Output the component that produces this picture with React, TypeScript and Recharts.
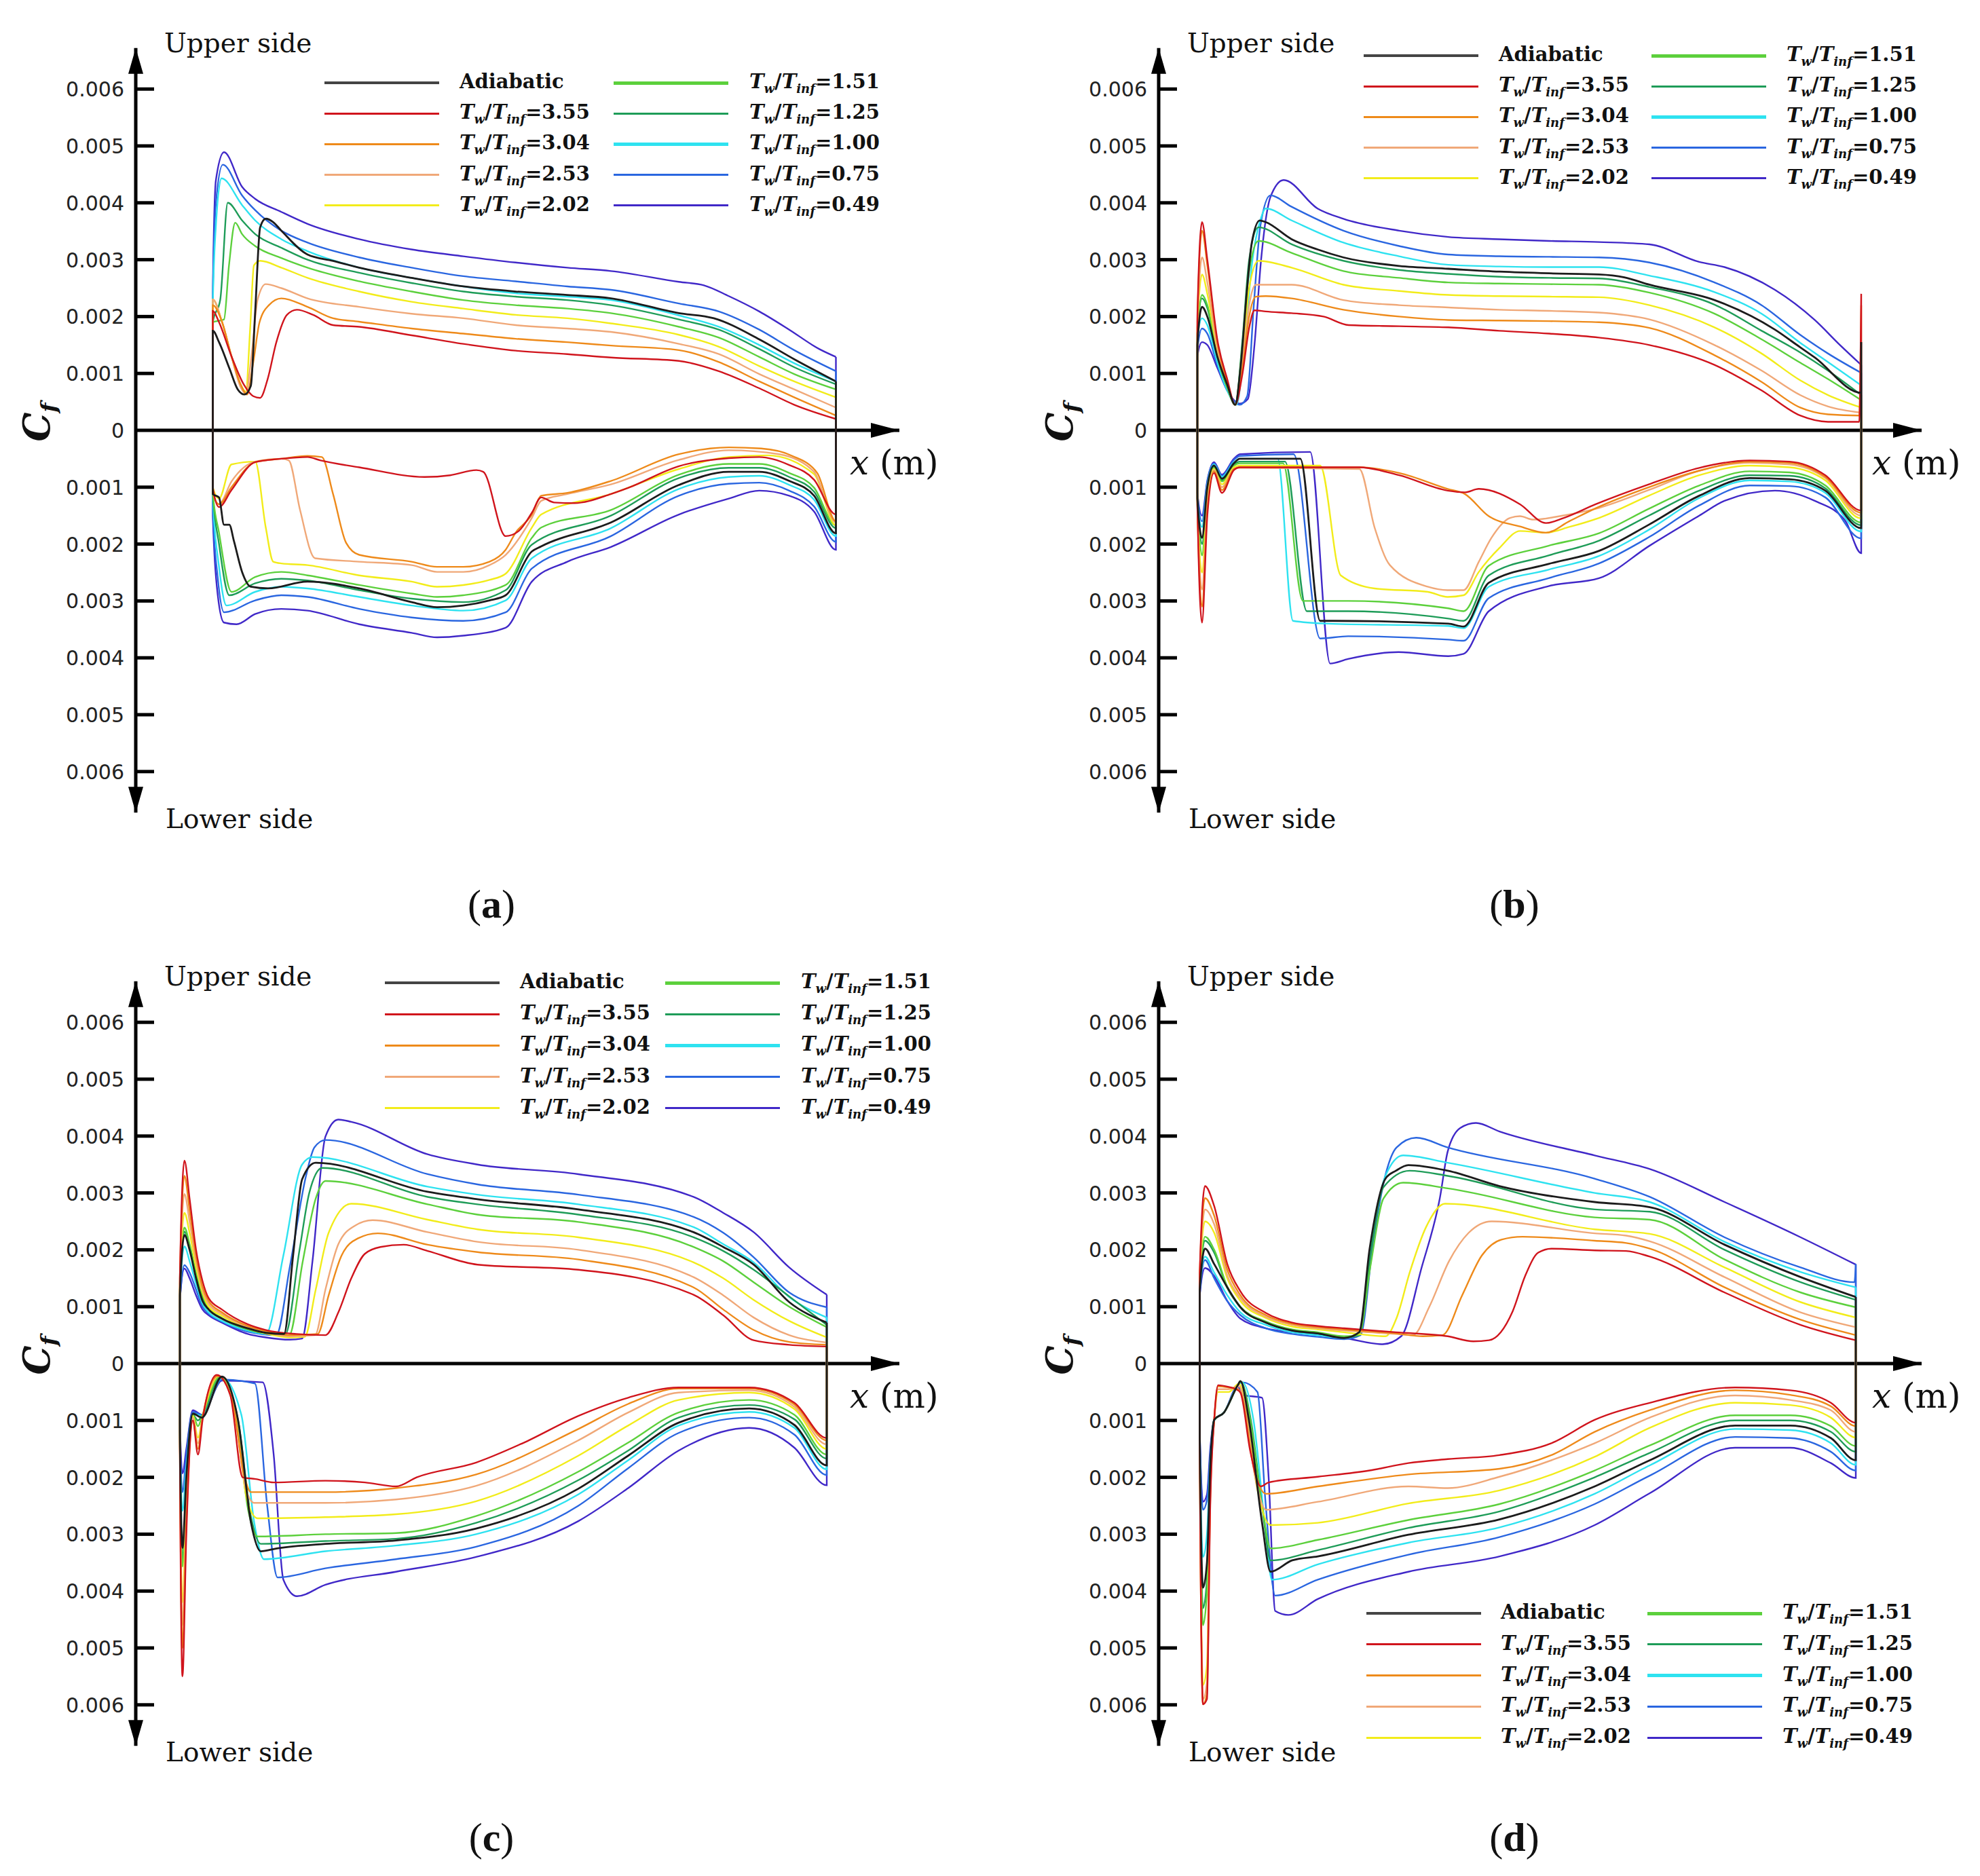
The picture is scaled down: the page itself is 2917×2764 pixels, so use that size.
import React from "react";
import { Line, LineChart, ReferenceDot, ReferenceLine, XAxis, YAxis } from "recharts";

// x in % of chord, Cf in units of 1e-3 (lower side stored as magnitude)
const SERIES_LABELS = ["Adiabatic", "3.55", "3.04", "2.53", "2.02", "1.51", "1.25", "1.00", "0.75", "0.49"];
const SERIES_COLORS = ["#1c1c1c", "#d0141c", "#ee8a1a", "#f0a878", "#f2ec1a", "#5cd03c", "#1e9c58", "#2ee2f0", "#2a66e0", "#4028c8"];
const CF_TICKS = [-6, -5, -4, -3, -2, -1, 0, 1, 2, 3, 4, 5, 6];

// (a) upper side
const aUpAdia = [0,1.75, 1,1.55, 2.7,1.08, 4,0.72, 5.1,0.63, 6.1,0.78, 6.8,2.08, 7.6,3.57, 8.5,3.72, 9.7,3.66, 11,3.51, 15.2,3.09, 19.3,2.98, 23.5,2.86, 31.9,2.68, 40.2,2.53, 48.6,2.44, 56.9,2.38, 63.9,2.32, 74.8,2.06, 80.4,1.97, 87.7,1.6, 93.3,1.25, 100,0.86];
const aUp355 = [0,2.1, 1,1.9, 3,1.3, 5,0.8, 6.5,0.6, 7.6,0.57, 8.8,0.9, 10.2,1.55, 11.9,2.03, 13.5,2.12, 16.1,2.03, 19.3,1.85, 23.5,1.82, 31.9,1.67, 40.2,1.52, 48.6,1.4, 56.9,1.34, 63.9,1.28, 74.8,1.22, 81.2,1.04, 87.7,0.74, 93.3,0.45, 100,0.2];
const aUp304 = [0,2.2, 1.5,1.9, 3,1.3, 4.5,0.8, 5.5,0.63, 6.5,1.2, 7.5,1.9, 9,2.2, 11,2.32, 15.2,2.17, 19.3,1.97, 23.5,1.91, 31.9,1.79, 40.2,1.7, 48.6,1.61, 56.9,1.55, 63.9,1.49, 74.8,1.41, 81.2,1.2, 87.7,0.86, 93.3,0.58, 100,0.26];
const aUp253 = [0,2.3, 1.5,1.9, 3,1.3, 4.5,0.75, 5.3,0.65, 6.2,1.3, 7.2,2.3, 8.5,2.57, 11,2.5, 15.2,2.32, 23.5,2.17, 31.9,2.05, 40.2,1.97, 48.6,1.85, 56.9,1.79, 63.9,1.73, 74.8,1.52, 81.2,1.34, 87.7,0.99, 93.3,0.72, 100,0.4];
const aUp202 = [0,2.3, 1.5,1.9, 3,1.3, 4.5,0.8, 5.3,0.68, 6,1.8, 6.6,2.9, 7.6,2.98, 11,2.86, 15.2,2.68, 23.5,2.44, 31.9,2.26, 40.2,2.14, 48.6,2.03, 56.9,1.97, 63.9,1.88, 74.8,1.68, 81.2,1.47, 87.7,1.13, 93.3,0.86, 100,0.58];
const aUp151 = [0,1.9, 1.8,1.95, 2.6,2.9, 3.6,3.65, 4.7,3.45, 6.8,3.24, 11,3.03, 15.2,2.86, 23.5,2.62, 31.9,2.44, 40.2,2.29, 48.6,2.2, 56.9,2.14, 63.9,2.06, 74.8,1.82, 81.2,1.63, 87.7,1.29, 93.3,0.99, 100,0.72];
const aUp125 = [0,1.9, 1.2,2.3, 2.4,4.0, 4.7,3.69, 6.8,3.45, 11,3.21, 15.2,3.0, 23.5,2.77, 31.9,2.59, 40.2,2.44, 48.6,2.35, 56.9,2.29, 63.9,2.2, 74.8,1.95, 81.2,1.77, 87.7,1.43, 93.3,1.11, 100,0.81];
const aUp100 = [0,2.2, 0.5,3.6, 1.4,4.43, 4.7,3.96, 6.8,3.69, 11,3.36, 15.2,3.15, 23.5,2.86, 31.9,2.68, 40.2,2.53, 48.6,2.41, 56.9,2.35, 63.9,2.29, 74.8,2.02, 81.2,1.82, 87.7,1.5, 93.3,1.18, 100,0.86];
const aUp075 = [0,2.3, 0.5,4.0, 1.6,4.67, 4.7,4.13, 6.8,3.87, 11,3.51, 15.2,3.3, 23.5,3.04, 31.9,2.86, 40.2,2.71, 48.6,2.62, 56.9,2.53, 63.9,2.47, 74.8,2.23, 81.2,2.09, 87.7,1.77, 93.3,1.41, 100,1.04];
const aUp049 = [0,2.4, 0.5,4.4, 1.8,4.89, 4.7,4.28, 6.8,4.07, 11,3.84, 15.2,3.63, 23.5,3.36, 31.9,3.18, 40.2,3.06, 48.6,2.95, 56.9,2.86, 63.9,2.8, 74.8,2.61, 78.8,2.55, 82.8,2.36, 87.7,2.09, 92.5,1.77, 97.3,1.43, 100,1.29];

// (a) lower side
const aLowAdia = [0,1.12, 1,1.18, 1.8,1.66, 2.65,1.66, 3.4,1.95, 4.7,2.49, 6.1,2.75, 8.9,2.78, 15.2,2.66, 23.5,2.78, 31.9,3.02, 36,3.11, 40.2,3.08, 44.4,2.99, 47,2.9, 51.2,2.13, 52.7,2.04, 63.9,1.62, 74.8,0.96, 82.8,0.73, 87.7,0.73, 92.5,0.89, 96.5,1.15, 100,1.81];
const aLow355 = [0,1.0, 1,1.35, 3,1.05, 6.8,0.56, 11,0.5, 15.2,0.47, 17.3,0.53, 23.5,0.65, 34,0.82, 38.1,0.79, 42.3,0.7, 43.4,0.73, 47,1.86, 49.1,1.77, 51.2,1.45, 52.7,1.18, 54.8,1.27, 58,1.28, 63.9,1.12, 66.7,1.01, 74.8,0.63, 82.8,0.49, 87.7,0.47, 92.5,0.61, 96.5,0.87, 100,1.48];
const aLow304 = [0,1.1, 1,1.3, 3,1.0, 6.8,0.56, 11,0.5, 15.2,0.45, 17.5,0.47, 19.3,1.12, 21.4,1.98, 23.5,2.19, 31.9,2.31, 36,2.4, 40.2,2.4, 44.4,2.31, 47,2.1, 48.6,1.8, 51.2,1.48, 52.7,1.15, 56.9,1.1, 63.9,0.89, 74.8,0.42, 82.8,0.3, 88,0.32, 93,0.45, 97,0.75, 100,1.6];
const aLow253 = [0,1.1, 1,1.3, 3,0.9, 6.8,0.55, 11,0.5, 12.2,0.53, 14,1.4, 16.4,2.25, 23.5,2.31, 31.9,2.37, 36,2.49, 40.2,2.49, 44.4,2.37, 47,2.19, 51.2,1.54, 52.7,1.24, 56.9,1.12, 63.9,0.95, 74.8,0.52, 82.8,0.35, 90.9,0.42, 96.5,0.73, 100,1.62];
const aLow202 = [0,1.0, 1,1.2, 3,0.6, 6.8,0.55, 8.5,1.71, 9.7,2.31, 11,2.34, 15.2,2.37, 23.5,2.55, 31.9,2.66, 36,2.75, 40.2,2.72, 44.4,2.63, 47,2.52, 51.2,1.71, 52.7,1.48, 63.9,1.12, 74.8,0.68, 82.8,0.47, 89,0.44, 96.5,0.77, 100,1.67];
const aLow151 = [0,1.1, 1,1.8, 3,2.84, 6.8,2.58, 11,2.49, 15.2,2.55, 23.5,2.72, 31.9,2.87, 36,2.93, 40.2,2.9, 47,2.72, 51.2,1.89, 52.7,1.71, 63.9,1.4, 74.8,0.78, 82.8,0.59, 87.7,0.59, 92.5,0.75, 96.5,1.01, 100,1.67];
const aLow125 = [0,1.1, 1,2.0, 2.65,2.9, 6.8,2.69, 11,2.61, 15.2,2.64, 23.5,2.81, 31.9,2.96, 40.2,3.02, 47,2.81, 51.2,2.01, 63.9,1.5, 74.8,0.84, 82.8,0.66, 87.7,0.66, 92.5,0.82, 96.5,1.08, 100,1.72];
const aLow100 = [0,1.2, 1,2.4, 2.2,3.08, 6.8,2.84, 11,2.75, 15.2,2.78, 23.5,2.93, 31.9,3.08, 40.2,3.17, 47,2.99, 51.2,2.25, 63.9,1.72, 74.8,1.03, 82.8,0.82, 87.7,0.8, 92.5,0.96, 96.5,1.22, 100,1.86];
const aLow075 = [0,1.4, 0.8,2.6, 1.8,3.2, 6.8,2.99, 11,2.9, 15.2,2.93, 23.5,3.14, 31.9,3.29, 40.2,3.35, 47,3.2, 51.2,2.43, 63.9,1.86, 74.8,1.15, 82.8,0.94, 87.7,0.92, 92.5,1.06, 96.5,1.34, 100,1.96];
const aLow049 = [0,1.5, 0.8,2.9, 1.8,3.38, 3.8,3.41, 6.8,3.23, 11,3.14, 15.2,3.17, 23.5,3.41, 31.9,3.56, 36,3.64, 40.2,3.61, 47,3.47, 51.2,2.66, 56.9,2.31, 63.9,2.05, 74.8,1.48, 82.8,1.2, 87.7,1.06, 92.5,1.15, 96.5,1.43, 100,2.1];

// (b) upper side
const bUpAdia = [0,1.5, 0.7,2.17, 1.5,2.0, 3,1.3, 4.5,0.8, 5.7,0.45, 6.5,1.1, 7.5,2.5, 8.2,3.3, 9.4,3.69, 10.3,3.66, 14.2,3.36, 18.1,3.18, 22,3.04, 30.4,2.89, 37.8,2.84, 45.5,2.79, 53,2.76, 60.5,2.74, 64.3,2.69, 68.1,2.56, 77.9,2.29, 87,1.77, 90.8,1.46, 93,1.28, 100,0.66, 100,1.55];
const bUp355 = [0,2.0, 0.7,3.66, 1.5,3.0, 3,1.6, 4.5,0.9, 5.7,0.45, 6.8,1.0, 7.8,1.8, 8.6,2.11, 10.3,2.09, 14.2,2.06, 19,2.0, 22.8,1.85, 30.4,1.83, 37.8,1.81, 45.5,1.75, 53,1.7, 60.5,1.63, 68.1,1.5, 77.9,1.15, 85,0.7, 90.8,0.26, 95,0.15, 99.7,0.15, 100,2.4];
const bUp304 = [0,1.9, 0.7,3.51, 1.5,2.9, 3,1.55, 4.5,0.85, 5.7,0.45, 6.8,1.1, 7.8,2.0, 8.8,2.35, 10.3,2.36, 14.2,2.32, 22,2.12, 30.4,2.0, 37.8,1.94, 45.5,1.93, 53,1.92, 60.5,1.9, 68.1,1.8, 77.9,1.32, 85,0.85, 90.8,0.4, 95,0.28, 99.7,0.26, 100,2.2];
const bUp253 = [0,1.8, 0.7,3.04, 1.5,2.6, 3,1.45, 4.5,0.8, 5.7,0.45, 6.8,1.2, 7.8,2.2, 8.8,2.56, 10.3,2.56, 14.2,2.56, 22,2.29, 30.4,2.2, 37.8,2.16, 45.5,2.12, 53,2.1, 60.5,2.07, 68.1,1.95, 77.9,1.5, 85,1.05, 90.8,0.62, 95,0.42, 100,0.31];
const bUp202 = [0,1.8, 0.7,2.74, 1.5,2.4, 3,1.4, 4.5,0.8, 5.7,0.45, 6.8,1.4, 7.8,2.5, 9.2,2.98, 14.2,2.86, 22,2.56, 30.4,2.45, 37.8,2.38, 45.5,2.36, 53,2.35, 60.5,2.34, 68.1,2.2, 77.9,1.81, 85,1.35, 90.8,0.88, 95,0.62, 100,0.4];
const bUp151 = [0,1.7, 0.7,2.38, 1.5,2.2, 3,1.3, 4.5,0.75, 5.7,0.45, 6.8,1.5, 7.8,2.8, 9.2,3.33, 14.2,3.12, 22,2.8, 30.4,2.68, 37.8,2.6, 45.5,2.58, 53,2.57, 60.5,2.56, 68.1,2.42, 77.9,2.05, 85,1.6, 90.8,1.19, 95,0.9, 100,0.53];
const bUp125 = [0,1.7, 0.7,2.32, 1.5,2.15, 3,1.3, 4.5,0.75, 5.7,0.45, 6.8,1.6, 7.8,3.0, 9.2,3.57, 14.2,3.27, 22,2.98, 30.4,2.82, 37.8,2.75, 45.5,2.7, 53,2.68, 60.5,2.67, 68.1,2.52, 77.9,2.21, 85,1.75, 90.8,1.37, 95,1.05, 100,0.62];
const bUp100 = [0,1.6, 0.7,1.97, 1.5,1.85, 3,1.2, 4.5,0.7, 5.9,0.45, 7,1.4, 8.3,3.0, 9.5,3.7, 10.3,3.9, 14.2,3.69, 22,3.3, 30.4,3.06, 37.8,2.91, 45.5,2.88, 53,2.87, 60.5,2.87, 68.1,2.72, 77.9,2.43, 85,2.05, 90.8,1.54, 95,1.2, 100,0.79];
const bUp075 = [0,1.4, 0.7,1.79, 1.5,1.7, 3,1.15, 4.5,0.7, 6.4,0.45, 7.5,0.6, 8.5,2.2, 9.5,3.6, 11,4.13, 14.2,3.93, 22,3.51, 30.4,3.24, 37.8,3.09, 45.5,3.06, 53,3.05, 60.5,3.04, 68.1,2.95, 77.9,2.6, 85,2.2, 90.8,1.68, 95,1.35, 100,1.01];
const bUp049 = [0,1.3, 0.7,1.55, 1.5,1.5, 3,1.1, 4.5,0.7, 6.4,0.47, 7.6,0.55, 8.6,1.5, 9.6,3.0, 10.5,3.85, 11,4.1, 13,4.4, 18.1,3.9, 22,3.72, 30.4,3.51, 37.8,3.4, 45.5,3.36, 53,3.33, 60.5,3.31, 68.1,3.27, 75.6,2.96, 79.4,2.87, 87,2.47, 93,1.94, 96.8,1.5, 100,1.15];

// (b) lower side
const bLowAdia = [0,1.2, 0.7,1.89, 1.5,1.0, 2.5,0.62, 3.7,0.85, 5.5,0.58, 6.4,0.5, 15.5,0.5, 18.5,3.35, 20.4,3.35, 37.8,3.4, 40.1,3.45, 43.9,2.68, 52.9,2.35, 60.5,2.12, 68,1.66, 75.6,1.15, 83.2,0.84, 89.2,0.86, 94.6,1.06, 100,1.72];
const bLow355 = [0,1.3, 0.7,3.38, 1.5,1.5, 2.5,0.75, 3.7,1.1, 5.5,0.7, 6.4,0.65, 24.4,0.65, 30.4,0.79, 37.7,1.06, 40.3,1.09, 42.4,1.03, 48.6,1.3, 52.5,1.63, 55.2,1.54, 60,1.3, 68,0.95, 75.6,0.66, 83.2,0.53, 89.2,0.55, 94.6,0.79, 100,1.41];
const bLow304 = [0,1.3, 0.7,3.1, 1.5,1.4, 2.5,0.72, 3.7,1.05, 5.5,0.68, 6.4,0.65, 24.4,0.65, 30.4,0.75, 37.7,1.03, 40.3,1.12, 43.9,1.51, 48.6,1.69, 52.5,1.8, 56,1.6, 60,1.37, 68,1.0, 75.6,0.71, 83.2,0.55, 89.2,0.57, 94.6,0.82, 100,1.45];
const bLow253 = [0,1.3, 0.7,2.8, 1.5,1.3, 2.5,0.7, 3.7,1.0, 5.5,0.68, 6.4,0.66, 24.4,0.68, 26.7,1.71, 29,2.37, 34.7,2.75, 37.7,2.81, 40.1,2.81, 42.4,2.31, 44.3,1.89, 47.1,1.54, 48.6,1.51, 50.6,1.57, 55,1.5, 60,1.38, 68,1.05, 75.6,0.71, 83.2,0.57, 89.2,0.6, 94.6,0.84, 100,1.5];
const bLow202 = [0,1.3, 0.7,2.5, 1.5,1.2, 2.5,0.68, 3.7,0.95, 5.5,0.65, 6.4,0.62, 18.5,0.62, 21.6,2.55, 26.7,2.78, 34.7,2.84, 37.7,2.93, 40.1,2.9, 42.4,2.49, 45.5,2.07, 48.6,1.77, 52.5,1.8, 56,1.7, 60.5,1.54, 68,1.15, 75.6,0.79, 83.2,0.62, 89.2,0.65, 94.6,0.88, 100,1.55];
const bLow151 = [0,1.2, 0.7,2.2, 1.5,1.1, 2.5,0.66, 3.7,0.9, 5.5,0.62, 6.4,0.58, 12.9,0.58, 15.9,3.0, 22.7,3.0, 37.8,3.13, 40.1,3.18, 43.9,2.38, 52.9,2.03, 60.5,1.81, 68,1.38, 75.6,0.97, 83.2,0.72, 89.2,0.74, 94.6,0.97, 100,1.62];
const bLow125 = [0,1.2, 0.7,2.0, 1.5,1.05, 2.5,0.64, 3.7,0.88, 5.5,0.6, 6.4,0.55, 13.2,0.55, 16.5,3.18, 22.7,3.18, 37.8,3.31, 40.1,3.35, 43.9,2.55, 52.9,2.2, 60.5,1.94, 68,1.5, 75.6,1.06, 83.2,0.79, 89.2,0.8, 94.6,1.02, 100,1.67];
const bLow100 = [0,1.2, 0.7,1.7, 1.5,0.95, 2.5,0.6, 3.7,0.82, 5.5,0.56, 6.4,0.5, 12.1,0.5, 14.4,3.35, 19.7,3.4, 37.8,3.44, 40.1,3.48, 43.9,2.75, 52.9,2.45, 60.5,2.21, 68,1.75, 75.6,1.19, 83.2,0.88, 89.2,0.9, 94.6,1.1, 100,1.78];
const bLow075 = [0,1.1, 0.7,1.6, 1.5,0.9, 2.5,0.58, 3.7,0.8, 5.5,0.52, 6.4,0.45, 14.5,0.42, 18.5,3.66, 22.7,3.62, 37.8,3.68, 40.1,3.7, 43.9,2.95, 52.9,2.6, 60.5,2.34, 68,1.88, 75.6,1.32, 83.2,0.97, 89.2,0.98, 94.6,1.18, 100,1.9];
const bLow049 = [0,1.1, 0.7,1.5, 1.5,0.88, 2.5,0.56, 3.7,0.78, 5.5,0.5, 6.4,0.42, 17,0.38, 20,4.1, 22.7,4.02, 30.3,3.9, 37.8,3.97, 40.1,3.93, 43.9,3.18, 52.9,2.74, 60.5,2.6, 68.1,2.03, 75.6,1.5, 79.4,1.24, 87,1.06, 93,1.24, 97.6,1.59, 100,2.16];

// (c) upper side
const cUpAdia = [0,1.2, 0.7,2.26, 1.5,2.0, 2.5,1.5, 3.5,1.1, 4.45,0.95, 6.5,0.79, 10.5,0.62, 13.3,0.54, 16.1,0.52, 17.5,1.9, 18.9,3.24, 21,3.53, 38.3,3.02, 46,2.89, 61.6,2.71, 79.4,2.31, 84,2.05, 88.7,1.74, 94.2,1.08, 100,0.72];
const cUp355 = [0,1.5, 0.7,3.57, 1.5,2.9, 2.5,2.0, 3.5,1.45, 4.45,1.15, 6.5,0.95, 10.5,0.69, 13.3,0.59, 18,0.52, 22.5,0.5, 24.5,0.9, 26.5,1.5, 28.6,1.93, 31,2.05, 34.6,2.09, 38.3,1.98, 46,1.74, 61.6,1.65, 79.4,1.21, 84,0.85, 88.7,0.41, 94.2,0.33, 100,0.3];
const cUp304 = [0,1.5, 0.7,3.3, 1.5,2.7, 2.5,1.9, 3.5,1.35, 4.45,1.1, 6.5,0.9, 10.5,0.66, 13.3,0.57, 17,0.5, 21.3,0.52, 23,1.2, 25,1.9, 27.5,2.2, 30.6,2.29, 38.3,2.09, 46,1.96, 61.6,1.83, 79.4,1.34, 84,0.95, 88.7,0.59, 94.2,0.38, 100,0.33];
const cUp253 = [0,1.4, 0.7,2.98, 1.5,2.5, 2.5,1.8, 3.5,1.3, 4.45,1.05, 6.5,0.87, 10.5,0.64, 13.3,0.55, 17,0.48, 20.9,0.5, 22.5,1.3, 24.5,2.1, 27,2.42, 29.8,2.52, 38.3,2.31, 46,2.14, 61.6,2.0, 79.4,1.52, 84,1.2, 88.7,0.81, 94.2,0.5, 100,0.37];
const cUp202 = [0,1.4, 0.7,2.65, 1.5,2.3, 2.5,1.7, 3.5,1.25, 4.45,1.0, 6.5,0.84, 10.5,0.62, 13.3,0.53, 17,0.46, 19.3,0.47, 21,1.3, 23,2.3, 26.5,2.81, 38.3,2.53, 46,2.36, 61.6,2.22, 79.4,1.78, 84,1.5, 88.7,1.12, 94.2,0.75, 100,0.46];
const cUp151 = [0,1.3, 0.7,2.39, 1.5,2.1, 2.5,1.6, 3.5,1.2, 4.45,0.98, 6.5,0.8, 10.5,0.6, 13.3,0.53, 16.9,0.5, 19,1.8, 21,2.9, 22.5,3.21, 38.3,2.8, 46,2.62, 61.6,2.49, 79.4,2.05, 84,1.8, 88.7,1.43, 94.2,1.0, 100,0.64];
const cUp125 = [0,1.3, 0.7,2.32, 1.5,2.05, 2.5,1.55, 3.5,1.15, 4.45,0.95, 6.5,0.79, 10.5,0.6, 13.3,0.53, 16.3,0.52, 18.5,2.0, 20,3.0, 22,3.44, 38.3,2.93, 46,2.8, 61.6,2.62, 79.4,2.22, 84,1.98, 88.7,1.65, 94.2,1.18, 100,0.68];
const cUp100 = [0,1.2, 0.7,2.06, 1.5,1.8, 2.5,1.4, 3.5,1.05, 4.45,0.9, 6.5,0.75, 10.5,0.58, 13.3,0.52, 16,1.9, 18.9,3.5, 20.5,3.63, 38.3,3.11, 46,2.97, 61.6,2.8, 79.4,2.4, 84,2.1, 88.7,1.78, 94.2,1.17, 100,0.81];
const cUp075 = [0,1.1, 0.7,1.73, 1.5,1.6, 2.5,1.3, 3.5,1.0, 4.45,0.88, 6.5,0.74, 10.5,0.56, 14.9,0.5, 17,1.7, 19.5,3.3, 20.8,3.8, 22.5,3.93, 38.3,3.33, 46,3.15, 61.6,2.97, 79.4,2.58, 84,2.3, 88.7,1.87, 94.2,1.25, 100,0.99];
const cUp049 = [0,1.1, 0.7,1.67, 1.5,1.5, 2.5,1.2, 3.5,0.95, 4.45,0.85, 6.5,0.72, 10.5,0.52, 13.3,0.46, 17,0.42, 18.9,0.44, 20.5,1.8, 22.5,3.99, 24.5,4.29, 26.5,4.25, 38.3,3.68, 46,3.5, 61.6,3.33, 79.4,2.93, 84,2.65, 88.7,2.31, 94.2,1.69, 100,1.21];

// (c) lower side
const cLowAdia = [0,1.2, 0.4,3.24, 1.0,2.0, 2.0,0.88, 3.4,0.95, 6.5,0.23, 9,1.0, 11,2.8, 12.5,3.3, 15,3.25, 22.5,3.17, 33.4,3.11, 45.8,2.9, 61.6,2.2, 69.3,1.62, 77.1,1.04, 88,0.79, 95,1.08, 100,1.79];
const cLow355 = [0,1.5, 0.4,5.5, 1.0,3.0, 2.0,1.0, 2.8,1.6, 3.5,1.0, 5.7,0.2, 7.8,0.56, 9.7,2.0, 11.7,2.03, 14.5,2.09, 22.5,2.06, 28.6,2.09, 33.4,2.16, 36.6,2.0, 45.8,1.74, 53,1.4, 61.6,0.92, 69.3,0.6, 77.1,0.42, 88,0.42, 95,0.69, 100,1.31];
const cLow304 = [0,1.5, 0.4,5.0, 1.0,2.8, 2.0,1.0, 2.8,1.5, 3.5,0.95, 5.8,0.22, 8,0.6, 10,2.0, 11,2.26, 22.5,2.26, 33.4,2.19, 45.8,1.95, 61.6,1.15, 69.3,0.71, 77.1,0.44, 88,0.44, 95,0.72, 100,1.35];
const cLow253 = [0,1.4, 0.4,4.6, 1.0,2.6, 2.0,0.95, 2.8,1.4, 3.5,0.95, 5.9,0.22, 8.2,0.7, 10.2,2.2, 11.5,2.45, 22.5,2.45, 33.4,2.39, 45.8,2.15, 61.6,1.35, 69.3,0.86, 77.1,0.51, 88,0.47, 95,0.76, 100,1.42];
const cLow202 = [0,1.4, 0.4,4.2, 1.0,2.4, 2.0,0.92, 2.8,1.3, 3.5,0.95, 6.0,0.22, 8.4,0.8, 10.4,2.4, 12,2.72, 22.5,2.7, 33.4,2.65, 45.8,2.42, 61.6,1.62, 69.3,1.09, 77.1,0.64, 88,0.51, 95,0.8, 100,1.5];
const cLow151 = [0,1.3, 0.4,3.57, 1.0,2.2, 2.0,0.9, 2.8,1.1, 3.5,0.9, 6.2,0.23, 8.6,0.9, 10.6,2.6, 12,3.04, 22.5,3.0, 33.4,2.98, 45.8,2.68, 61.6,1.9, 69.3,1.39, 77.1,0.86, 88,0.64, 95,0.9, 100,1.6];
const cLow125 = [0,1.3, 0.4,3.44, 1.0,2.1, 2.0,0.9, 2.8,1.0, 3.5,0.9, 6.3,0.23, 9,1.0, 11,2.7, 12.5,3.17, 22.5,3.12, 33.4,3.08, 45.8,2.8, 61.6,2.05, 69.3,1.53, 77.1,0.95, 88,0.73, 95,0.98, 100,1.67];
const cLow100 = [0,1.2, 0.4,2.59, 1.0,1.8, 2.0,0.88, 3.4,0.92, 6.5,0.25, 9.5,0.9, 11.5,2.8, 13,3.44, 22.5,3.3, 33.4,3.2, 45.8,3.0, 61.6,2.3, 69.3,1.7, 77.1,1.09, 88,0.85, 95,1.13, 100,1.86];
const cLow075 = [0,1.1, 0.4,2.26, 1.0,1.6, 2.0,0.85, 3.4,0.9, 6.5,0.28, 11.6,0.35, 13.5,2.5, 15.1,3.76, 22.5,3.6, 33.4,3.44, 45.8,3.22, 61.6,2.5, 69.3,1.84, 77.1,1.22, 88,0.95, 95,1.25, 100,1.96];
const cLow049 = [0,1.0, 0.4,1.93, 1.0,1.5, 2.0,0.82, 3.4,0.9, 6.5,0.3, 12.8,0.33, 14.5,1.6, 16,3.8, 18.1,4.09, 22.5,3.89, 33.4,3.66, 45.8,3.4, 61.6,2.77, 69.3,2.19, 77.1,1.53, 88,1.13, 95,1.48, 100,2.14];

// (d) upper side
const dUpAdia = [0,1.3, 0.8,2.02, 2.2,1.75, 4.2,1.34, 6.2,0.99, 10.1,0.72, 14.1,0.58, 18,0.53, 22,0.45, 24.3,0.55, 25.9,2.02, 28.3,3.25, 29.9,3.39, 31.8,3.49, 37.8,3.39, 45.7,3.12, 60.2,2.84, 68.6,2.75, 80,2.09, 91.6,1.52, 100,1.17];
const dUp355 = [0,1.6, 0.8,3.12, 2.2,2.77, 4.2,1.75, 6.2,1.27, 10.1,0.89, 14.1,0.72, 18,0.66, 22,0.62, 29.9,0.55, 37.8,0.48, 41.7,0.39, 44.1,0.41, 47.7,0.92, 49.6,1.54, 51.6,1.95, 53.6,2.02, 60.2,1.99, 65,1.98, 68.6,1.88, 80,1.25, 91.6,0.68, 100,0.41];
const dUp304 = [0,1.6, 0.8,2.91, 2.2,2.6, 4.2,1.65, 6.2,1.2, 10.1,0.85, 14.1,0.7, 18,0.64, 22,0.6, 29.9,0.53, 34,0.48, 37,0.5, 40,1.2, 43,1.9, 46,2.18, 49.2,2.23, 60.2,2.16, 65,2.12, 68.6,2.02, 80,1.34, 91.6,0.77, 100,0.5];
const dUp253 = [0,1.5, 0.8,2.71, 2.2,2.45, 4.2,1.55, 6.2,1.15, 10.1,0.82, 14.1,0.68, 18,0.62, 22,0.58, 29.9,0.52, 32.5,0.5, 35,1.0, 38,1.8, 41,2.3, 44.5,2.5, 60.2,2.29, 65,2.25, 68.6,2.15, 80,1.52, 91.6,0.9, 100,0.64];
const dUp202 = [0,1.5, 0.8,2.5, 2.2,2.3, 4.2,1.5, 6.2,1.1, 10.1,0.8, 14.1,0.65, 18,0.6, 22,0.55, 28.3,0.48, 30,0.8, 32,1.6, 34.5,2.4, 37.4,2.81, 60.2,2.36, 68.6,2.28, 80,1.69, 91.6,1.08, 100,0.81];
const dUp151 = [0,1.4, 0.8,2.23, 2.2,2.0, 4.2,1.35, 6.2,1.0, 10.1,0.74, 14.1,0.6, 18,0.55, 22,0.48, 24.3,0.5, 26,1.7, 28,2.9, 31,3.18, 37.8,3.08, 60.2,2.57, 68.6,2.53, 80,1.83, 91.6,1.25, 100,0.99];
const dUp125 = [0,1.4, 0.8,2.16, 2.2,1.95, 4.2,1.33, 6.2,0.99, 10.1,0.72, 14.1,0.58, 18,0.53, 22,0.46, 24.3,0.5, 26,1.9, 28,3.1, 32,3.39, 37.8,3.3, 60.2,2.71, 68.6,2.67, 80,2.0, 91.6,1.43, 100,1.12];
const dUp100 = [0,1.3, 0.8,1.88, 2.2,1.6, 4.2,1.2, 6.2,0.9, 10.1,0.68, 14.1,0.55, 18,0.5, 22,0.45, 24.3,0.52, 26,2.0, 28.3,3.3, 31,3.66, 37.8,3.53, 60.2,3.0, 68.6,2.84, 80,2.14, 91.6,1.61, 100,1.34];
const dUp075 = [0,1.2, 0.8,1.82, 2.2,1.5, 4.2,1.1, 6.2,0.85, 10.1,0.62, 14.1,0.52, 18,0.47, 22,0.43, 24.5,0.5, 26.5,2.2, 28.5,3.4, 30,3.8, 33,3.97, 37.8,3.8, 60.2,3.25, 68.6,2.93, 80,2.22, 91.6,1.69, 99.8,1.43, 100,1.75];
const dUp049 = [0,1.2, 0.8,1.68, 2.2,1.54, 4.2,1.1, 6.2,0.79, 10.1,0.62, 14.1,0.55, 22,0.45, 27.9,0.34, 30.7,0.48, 33.8,1.68, 36.6,2.91, 37.8,3.73, 39.7,4.14, 42.1,4.23, 45.7,4.08, 60.2,3.66, 68.6,3.42, 80,2.84, 91.6,2.22, 100,1.74];

// (d) lower side
const dLowAdia = [0,1.3, 0.5,3.94, 1.1,3.5, 1.6,1.8, 2.2,0.99, 3.7,0.86, 5.8,0.38, 6.2,0.31, 7.5,1.0, 9.5,2.8, 10.8,3.66, 14.1,3.46, 18,3.39, 31.8,3.01, 45.7,2.74, 60.2,2.16, 68.6,1.7, 81.6,1.09, 90,1.09, 96.2,1.31, 100,1.7];
const dLow355 = [0,1.5, 0.5,5.99, 1.1,5.9, 1.6,2.5, 2.2,0.99, 2.8,0.38, 4.4,0.41, 5.5,0.45, 6.2,0.51, 7.7,1.54, 9.3,2.16, 10.5,2.09, 18,1.99, 25.9,1.88, 31.8,1.75, 37.8,1.68, 45.7,1.61, 53.6,1.4, 60.2,0.99, 68.6,0.69, 81.6,0.42, 90,0.47, 96.2,0.69, 100,1.04];
const dLow304 = [0,1.5, 0.5,5.99, 1.1,5.8, 1.6,2.4, 2.2,0.99, 2.8,0.4, 4.4,0.42, 5.8,0.45, 6.5,0.6, 8,1.7, 10.1,2.29, 18,2.16, 31.8,1.95, 45.7,1.85, 53.6,1.61, 60.2,1.2, 68.6,0.82, 81.6,0.47, 90,0.55, 96.2,0.75, 100,1.1];
const dLow253 = [0,1.5, 0.5,5.9, 1.1,5.6, 1.6,2.3, 2.2,0.99, 2.8,0.45, 4.4,0.45, 6.0,0.4, 6.8,0.7, 8.3,1.9, 10.1,2.57, 18,2.43, 31.8,2.16, 37.8,2.19, 45.7,1.99, 60.2,1.4, 68.6,0.95, 81.6,0.56, 90,0.64, 96.2,0.82, 100,1.2];
const dLow202 = [0,1.4, 0.5,5.65, 1.1,5.3, 1.6,2.2, 2.2,0.99, 2.8,0.5, 4.4,0.5, 6.0,0.35, 7,0.8, 8.6,2.1, 10.8,2.84, 18,2.8, 31.8,2.46, 45.7,2.23, 60.2,1.64, 68.6,1.13, 81.6,0.69, 90,0.73, 96.2,0.95, 100,1.3];
const dLow151 = [0,1.4, 0.5,4.6, 1.1,4.0, 1.6,2.0, 2.2,0.99, 3.7,0.86, 5.8,0.38, 6.2,0.31, 7.7,1.0, 9.5,2.5, 10.8,3.25, 18,3.1, 31.8,2.75, 45.7,2.47, 60.2,1.88, 68.6,1.44, 81.6,0.91, 90,0.91, 96.2,1.1, 100,1.45];
const dLow125 = [0,1.4, 0.5,4.3, 1.1,3.8, 1.6,1.9, 2.2,0.99, 3.7,0.86, 5.8,0.38, 6.2,0.31, 7.8,1.0, 9.6,2.6, 10.8,3.46, 18,3.28, 31.8,2.89, 45.7,2.6, 60.2,2.0, 68.6,1.57, 81.6,1.0, 90,1.0, 96.2,1.2, 100,1.55];
const dLow100 = [0,1.3, 0.5,3.4, 1.1,3.0, 1.6,1.7, 2.2,0.99, 3.7,0.86, 5.8,0.38, 6.5,0.33, 8.2,1.0, 10,2.9, 11,3.8, 18,3.53, 31.8,3.15, 45.7,2.88, 60.2,2.29, 68.6,1.79, 81.6,1.15, 90,1.17, 96.2,1.4, 100,1.78];
const dLow075 = [0,1.2, 0.5,2.57, 1.1,2.4, 1.6,1.6, 2.2,0.99, 3.7,0.86, 5.8,0.38, 6.5,0.33, 8.8,0.5, 10,2.4, 11.5,4.08, 18,3.8, 31.8,3.36, 45.7,3.05, 60.2,2.47, 68.6,1.97, 81.6,1.29, 90,1.31, 96.2,1.55, 100,1.88];
const dLow049 = [0,1.2, 0.5,2.43, 1.1,2.3, 1.6,1.5, 2.2,0.99, 3.7,0.86, 5.8,0.4, 6.5,0.55, 9.5,0.6, 10.5,2.0, 11.5,4.35, 13.5,4.42, 18,4.14, 31.8,3.66, 45.7,3.39, 60.2,2.84, 68.6,2.28, 81.6,1.48, 90,1.48, 96.2,1.75, 100,2.01];

const SERIF = '"DejaVu Serif", serif';
const SANS = '"DejaVu Sans", sans-serif';
const PX_PER_UNIT = 83.8; // pixels per 0.001 of Cf
const Y_MAX = 6.72;
const AXIS_W = 200;
const ZERO_IN_CHART = 640;
const CHART_H = 1300;
const TICK_MARGIN = 17;

type Pt = { x: number; y: number };

function toPairs(flat: number[]): Pt[] {
  const out: Pt[] = [];
  for (let i = 0; i < flat.length; i += 2) out.push({ x: flat[i], y: flat[i + 1] });
  return out;
}

// closed loop: upper side from trailing to leading edge, then lower side (negative) back to the trailing edge
function loop(up: number[], low: number[]): Pt[] {
  const u = toPairs(up).reverse();
  const l = toPairs(low).map((p) => ({ x: p.x, y: -p.y }));
  return [...u, ...l, u[0]];
}

const PANELS = [
  {
    name: "a", up: [aUpAdia, aUp355, aUp304, aUp253, aUp202, aUp151, aUp125, aUp100, aUp075, aUp049],
    low: [aLowAdia, aLow355, aLow304, aLow253, aLow202, aLow151, aLow125, aLow100, aLow075, aLow049],
    axisX: 200, le: 313.5, te: 1231.5, tip: 1325, zeroY: 633.5,
    legend: { l1: 478, t1: 677, l2: 904, t2: 1104, y0: 122, dy: 45.2 },
  },
  {
    name: "b", up: [bUpAdia, bUp355, bUp304, bUp253, bUp202, bUp151, bUp125, bUp100, bUp075, bUp049],
    low: [bLowAdia, bLow355, bLow304, bLow253, bLow202, bLow151, bLow125, bLow100, bLow075, bLow049],
    axisX: 1707, le: 1764, te: 2742, tip: 2831, zeroY: 633.5,
    legend: { l1: 2009, t1: 2208, l2: 2433, t2: 2632, y0: 82, dy: 45.2 },
  },
  {
    name: "c", up: [cUpAdia, cUp355, cUp304, cUp253, cUp202, cUp151, cUp125, cUp100, cUp075, cUp049],
    low: [cLowAdia, cLow355, cLow304, cLow253, cLow202, cLow151, cLow125, cLow100, cLow075, cLow049],
    axisX: 200, le: 265, te: 1218, tip: 1325, zeroY: 2008.5,
    legend: { l1: 567, t1: 766, l2: 980, t2: 1180, y0: 1448, dy: 46.2 },
  },
  {
    name: "d", up: [dUpAdia, dUp355, dUp304, dUp253, dUp202, dUp151, dUp125, dUp100, dUp075, dUp049],
    low: [dLowAdia, dLow355, dLow304, dLow253, dLow202, dLow151, dLow125, dLow100, dLow075, dLow049],
    axisX: 1707, le: 1767.5, te: 2734, tip: 2831, zeroY: 2008.5,
    legend: { l1: 2013, t1: 2211, l2: 2427, t2: 2626, y0: 2377, dy: 45.8 },
  },
];

type PanelCfg = (typeof PANELS)[number];

function YTick(props: any) {
  const { x, y, payload } = props;
  const v = payload.value as number;
  const label = v === 0 ? "0" : (Math.abs(v) / 1000).toFixed(3);
  return (
    <g>
      <text x={x} y={y} dy={11} textAnchor="end" fontFamily={SANS} fontSize={30} fill="#222">
        {label}
      </text>
      {v !== 0 && <line x1={x + TICK_MARGIN} x2={x + TICK_MARGIN + 27} y1={y} y2={y} stroke="#000" strokeWidth={5} />}
    </g>
  );
}

const upArrow = (p: any) => <polygon points={`${p.cx},${p.cy} ${p.cx - 11},${p.cy + 38} ${p.cx + 11},${p.cy + 38}`} fill="#000" />;
const downArrow = (p: any) => <polygon points={`${p.cx},${p.cy} ${p.cx - 11},${p.cy - 38} ${p.cx + 11},${p.cy - 38}`} fill="#000" />;
const rightArrow = (p: any) => <polygon points={`${p.cx},${p.cy} ${p.cx - 42},${p.cy - 11} ${p.cx - 42},${p.cy + 11}`} fill="#000" />;

const subStyle: React.CSSProperties = { fontSize: "0.62em", fontStyle: "italic", verticalAlign: "-0.4em", lineHeight: 0 };

function LegendText({ i }: { i: number }) {
  if (i === 0) return <span>Adiabatic</span>;
  return (
    <span>
      <i>T</i>
      <sub style={subStyle}>w</sub>/<i>T</i>
      <sub style={subStyle}>inf</sub>={SERIES_LABELS[i]}
    </span>
  );
}

function PanelLegend({ p }: { p: PanelCfg }) {
  const g = p.legend;
  return (
    <>
      {SERIES_LABELS.map((_, i) => {
        const col = i < 5 ? 0 : 1;
        const y = g.y0 + (i % 5) * g.dy;
        const lx = col === 0 ? g.l1 : g.l2;
        const tx = col === 0 ? g.t1 : g.t2;
        const thick = i === 0 ? 4 : i === 5 || i === 7 ? 5 : 3;
        return (
          <React.Fragment key={i}>
            <div style={{ position: "absolute", left: lx, top: y - thick / 2, width: 169, height: thick, background: i === 0 ? "#444" : SERIES_COLORS[i] }} />
            <div style={{ position: "absolute", left: tx, top: y, transform: "translateY(-56%)", fontFamily: SERIF, fontWeight: "bold", fontSize: 29, lineHeight: 1, whiteSpace: "nowrap", color: "#111" }}>
              <LegendText i={i} />
            </div>
          </React.Fragment>
        );
      })}
    </>
  );
}

function Panel({ p }: { p: PanelCfg }) {
  const pxPerPct = (p.te - p.le) / 100;
  const xMin = (p.axisX - p.le) / pxPerPct;
  const xMax = (p.tip - p.le) / pxPerPct;
  const chartLeft = p.axisX - AXIS_W;
  const chartTop = p.zeroY - ZERO_IN_CHART;
  const width = p.tip - chartLeft + 60;
  const plotTop = ZERO_IN_CHART - Y_MAX * PX_PER_UNIT;
  const plotBottom = ZERO_IN_CHART + Y_MAX * PX_PER_UNIT;
  const order = [9, 8, 7, 6, 5, 4, 3, 2, 1, 0];
  const textBase: React.CSSProperties = { position: "absolute", fontFamily: SERIF, whiteSpace: "nowrap", lineHeight: 1, color: "#111" };

  return (
    <>
      <div style={{ position: "absolute", left: chartLeft, top: chartTop }}>
        <LineChart width={width} height={CHART_H} margin={{ top: plotTop, right: 60, bottom: CHART_H - plotBottom, left: 0 }}>
          <XAxis type="number" dataKey="x" domain={[xMin, xMax]} hide allowDataOverflow />
          <YAxis
            type="number"
            domain={[-Y_MAX, Y_MAX]}
            ticks={CF_TICKS}
            interval={0}
            width={AXIS_W}
            tickSize={0}
            tickMargin={TICK_MARGIN}
            tickLine={false}
            tick={(props: any) => <YTick {...props} />}
            axisLine={{ stroke: "#000", strokeWidth: 5 }}
            allowDataOverflow
          />
          <ReferenceLine y={0} stroke="#000" strokeWidth={5} />
          {order.map((i) => (
            <Line
              key={SERIES_LABELS[i]}
              name={SERIES_LABELS[i]}
              data={loop(p.up[i], p.low[i])}
              dataKey="y"
              type="monotone"
              stroke={SERIES_COLORS[i]}
              strokeWidth={i === 0 ? 2.8 : 2.4}
              dot={false}
              activeDot={false}
              isAnimationActive={false}
            />
          ))}
          <ReferenceDot x={xMin} y={Y_MAX} r={1} ifOverflow="visible" shape={upArrow} />
          <ReferenceDot x={xMin} y={-Y_MAX} r={1} ifOverflow="visible" shape={downArrow} />
          <ReferenceDot x={xMax} y={0} r={1} ifOverflow="visible" shape={rightArrow} />
        </LineChart>
      </div>
      <div style={{ ...textBase, left: p.axisX + 42, top: p.zeroY - 571, transform: "translateY(-50%)", fontSize: 39 }}>Upper side</div>
      <div style={{ ...textBase, left: p.axisX + 44, top: p.zeroY + 572, transform: "translateY(-50%)", fontSize: 39 }}>Lower side</div>
      <div style={{ ...textBase, left: p.tip - 73, top: p.zeroY + 48, transform: "translateY(-50%)", fontSize: 50 }}>
        <i>x</i> (m)
      </div>
      <div style={{ ...textBase, left: p.axisX - 146, top: p.zeroY - 12, transform: "translate(-50%,-50%) rotate(-90deg)", fontSize: 54, fontWeight: "bold", fontStyle: "italic" }}>
        C<sub style={{ fontSize: "0.6em", verticalAlign: "-0.3em", lineHeight: 0 }}>f</sub>
      </div>
      <div style={{ ...textBase, left: p.axisX + 524, top: p.zeroY + 698, transform: "translate(-50%,-50%)", fontSize: 60, fontFamily: '"Liberation Serif", serif' }}>
        (<b>{p.name}</b>)
      </div>
      <PanelLegend p={p} />
    </>
  );
}

export default function App() {
  return (
    <div style={{ position: "absolute", left: 0, top: 0, width: 2917, height: 2764, background: "#fff", overflow: "hidden" }}>
      {PANELS.map((p) => (
        <Panel key={p.name} p={p} />
      ))}
    </div>
  );
}
